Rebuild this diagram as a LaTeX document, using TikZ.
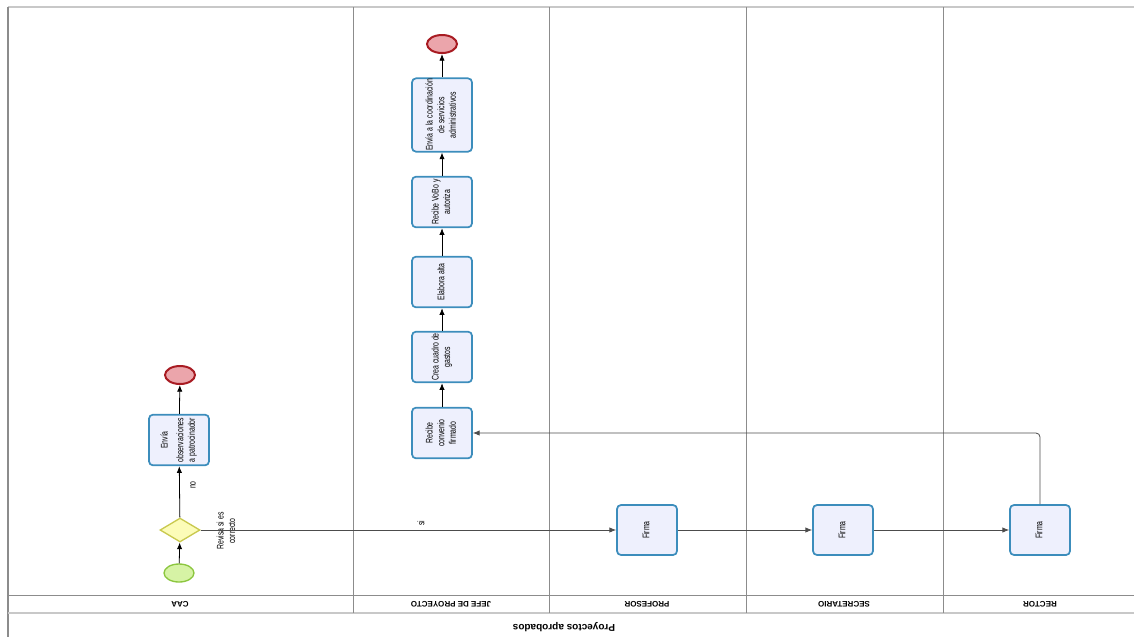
\documentclass[tikz,border=0pt]{standalone}
\usepackage{fontspec}
\setmainfont[FakeStretch=0.72]{Liberation Sans}
\newfontfamily\lanefont{Liberation Sans}
\usepackage{graphicx}
\usetikzlibrary{arrows.meta,shapes.geometric}
\definecolor{taskfill}{HTML}{EEF0FD}
\definecolor{taskdraw}{HTML}{3C8DBC}
\definecolor{startfill}{HTML}{D6F3A5}
\definecolor{startdraw}{HTML}{8CC63F}
\definecolor{endfill}{HTML}{EBA5AB}
\definecolor{enddraw}{HTML}{A81B22}
\definecolor{gwfill}{HTML}{FCFCB8}
\definecolor{gwdraw}{HTML}{C9C94E}
\definecolor{laneline}{HTML}{8C8C8C}
\definecolor{poolline}{HTML}{C8C8C8}
\newcommand\tasktext[1]{\rotatebox{90}{\fontsize{7.2}{8.7}\selectfont\begin{tabular}{@{}c@{}}#1\end{tabular}}}
\tikzset{
  task/.style={draw=taskdraw, fill=taskfill, line width=1.3pt, rounded corners=3pt,
    minimum width=45pt, minimum height=38pt, inner sep=1pt},
  startev/.style={ellipse, draw=startdraw, fill=startfill, line width=1pt,
    minimum width=22.5pt, minimum height=13.5pt, inner sep=0pt},
  endev/.style={ellipse, draw=enddraw, fill=endfill, line width=1.5pt,
    minimum width=22.5pt, minimum height=13.5pt, inner sep=0pt},
  gateway/.style={diamond, draw=gwdraw, fill=gwfill, line width=1pt,
    minimum width=30pt, minimum height=18pt, inner sep=0pt},
  flow/.style={draw=black, line width=0.6pt, -{Latex[length=5pt,width=4pt]}},
  longflow/.style={draw=black!70, line width=0.6pt, -{Latex[length=5pt,width=4pt]}},
  lanelbl/.style={font=\lanefont\bfseries\fontsize{6}{7}\selectfont, rotate=180, inner sep=0pt},
  smalllbl/.style={font=\fontsize{7.2}{8.7}\selectfont, rotate=90, align=center, inner sep=0pt}
}
\begin{document}
\begin{tikzpicture}[x=0.75pt,y=-0.75pt]
\useasboundingbox (0,0) rectangle (1134,637);
% pool and lanes
\draw[poolline, line width=1.2pt] (8,7) -- (1134,7);
\draw[laneline, line width=0.9pt] (8,7) -- (8,637);
\draw[laneline, line width=0.6pt] (8,595) -- (1134,595);
\draw[poolline, line width=1.3pt] (8,613) -- (1134,613);
\foreach \x in {353,549,746,943} {\draw[laneline, line width=0.6pt] (\x,7) -- (\x,613);}
% lane labels
\node[lanelbl] (lcaa) at (180,604) {CAA};
\node[lanelbl] (ljefe) at (451,604) {JEFE DE PROYECTO};
\node[lanelbl] (lprof) at (647,604) {PROFESOR};
\node[lanelbl] (lsec) at (844,604) {SECRETARIO};
\node[lanelbl] (lrec) at (1040,604) {RECTOR};
\node[lanelbl, font=\lanefont\bfseries\fontsize{7.5}{8}\selectfont] (lpool) at (564,627) {Proyectos aprobados};
% CAA lane
\node[startev] (start) at (179,573) {};
\node[gateway] (gw) at (180,530) {};
\node[task] (envia) at (179,440) {\tasktext{Envía\\[3pt]observaciones\\a patrocinador}};
\node[endev] (endcaa) at (180,375) {};
\node[smalllbl] (revlbl) at (226,531) {Revisa si es\\correcto};
% Jefe lane
\node[task] (recibe) at (442,433) {\tasktext{Recibe\\convenio\\firmado}};
\node[task] (crea) at (442,357) {\tasktext{Crea cuadro de\\gastos}};
\node[task] (elabora) at (442,282) {\tasktext{Elabora alta}};
\node[task] (vobo) at (442,202) {\tasktext{Recibe VoBo y\\autoriza}};
\node[task, minimum height=55pt, inner sep=0pt] (coord) at (442,115) {\tasktext{Envía a la coordinación\\de servicios\\administrativos}};
\node[endev] (endj) at (442,44) {};
% signing lanes
\node[task, minimum height=37.5pt] (firmap) at (647,530) {\tasktext{Firma}};
\node[task, minimum height=37.5pt] (firmas) at (843,530) {\tasktext{Firma}};
\node[task, minimum height=37.5pt] (firmar) at (1040,530) {\tasktext{Firma}};
% labels on flows
\node[smalllbl] (nolbl) at (193,485) {no};
\node[smalllbl] (silbl) at (421,523) {si};
% flows
\draw[flow] (start) -- (gw);
\draw[flow] (gw) -- (envia);
\draw[flow] (envia) -- (endcaa);
\draw[longflow] (gw.east) -- (firmap.west);
\draw[longflow] (firmap) -- (firmas);
\draw[longflow] (firmas) -- (firmar);
\draw[longflow, rounded corners=3pt] (firmar.north) |- (recibe.east);
\draw[flow] (recibe) -- (crea);
\draw[flow] (crea) -- (elabora);
\draw[flow] (elabora) -- (vobo);
\draw[flow] (vobo) -- (coord);
\draw[flow] (coord) -- (endj);
\end{tikzpicture}
\end{document}
